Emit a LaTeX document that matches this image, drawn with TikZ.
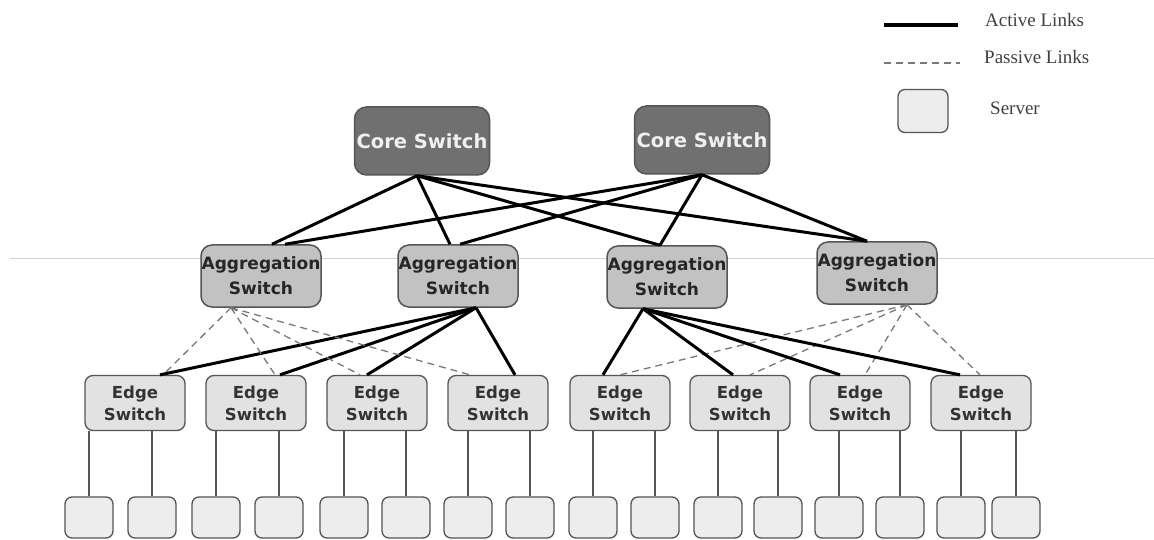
\documentclass[tikz,border=0pt]{standalone}
\usepackage{fontspec}
\usepackage{tikz}
\setmainfont{Liberation Serif}
\newfontfamily\boxfont{DejaVu Sans}
\definecolor{coreGray}{RGB}{112,112,112}
\definecolor{aggGray}{RGB}{194,194,194}
\definecolor{edgeGray}{RGB}{226,226,226}
\definecolor{srvGray}{RGB}{237,237,237}
\definecolor{borderGray}{RGB}{85,85,85}
\definecolor{passiveGray}{RGB}{120,120,120}
\definecolor{ruleGray}{RGB}{208,208,208}
\usetikzlibrary{positioning}

\begin{document}
\begin{tikzpicture}[x=1pt, y=-1pt,
    core/.style={rectangle, rounded corners=12pt, draw=borderGray, line width=1.5pt,
        fill=coreGray, minimum width=135pt, minimum height=68pt, inner sep=0pt,
        text=gray!12, font=\boxfont\bfseries\fontsize{19.5}{22}\selectfont},
    agg/.style={rectangle, rounded corners=11pt, draw=borderGray, line width=1.5pt,
        fill=aggGray, minimum width=120pt, minimum height=62pt, inner sep=0pt,
        align=center, text=black!85, font=\boxfont\bfseries\fontsize{17}{25}\selectfont},
    edgesw/.style={rectangle, rounded corners=8pt, draw=borderGray, line width=1.3pt,
        fill=edgeGray, minimum width=100pt, minimum height=55pt, inner sep=0pt,
        align=center, text=black!80, font=\boxfont\bfseries\fontsize{16.5}{22}\selectfont},
    srv/.style={rectangle, rounded corners=7pt, draw=borderGray, line width=1.3pt,
        fill=srvGray, minimum width=48pt, minimum height=41pt, inner sep=0pt},
    active/.style={line width=3pt, black},
    passive/.style={line width=1.3pt, passiveGray, dash pattern=on 7pt off 5pt},
    srvlink/.style={line width=1.5pt, borderGray},
    legtext/.style={anchor=west, inner sep=0pt, text=black!75, font=\fontsize{19}{22}\selectfont}
]
\useasboundingbox (0,0) rectangle (1154,540);

% thin rule across the picture
\draw[ruleGray, line width=1pt] (10,258) -- (1154,258);

% switches
\node[core] (core1) at (422,141) {Core Switch};
\node[core] (core2) at (702,140) {Core Switch};

\node[agg] (agg1) at (261,276) {Aggregation\\Switch};
\node[agg] (agg2) at (458,276) {Aggregation\\Switch};
\node[agg] (agg3) at (667,277) {Aggregation\\Switch};
\node[agg] (agg4) at (877,273) {Aggregation\\Switch};

\foreach \x [count=\i] in {135,256,377,498,620,740,860,981}
    \node[edgesw] (edge\i) at (\x,403) {Edge\\Switch};

% servers
\foreach \x [count=\i] in {89,152,216,279,344,406,468,530,593,655,718,778,839,900,961,1016}
    \node[srv] (srv\i) at (\x,517.5) {};

% core to aggregation
\foreach \a/\s/\t in {agg1/11/24, agg2/-8/2, agg3/-7/-7, agg4/-10/-10} {
    \draw[active] ([xshift=-5pt]core1.south) -- ([xshift=\s pt]\a.north);
    \draw[active] (core2.south) -- ([xshift=\t pt]\a.north);
}

% aggregation to edge
\foreach \e/\s/\p in {1/25/28, 2/24/19, 3/-10/-17, 4/17/-28} {
    \draw[passive] ([xshift=-30pt]agg1.south) -- ([xshift=\p pt]edge\e.north);
    \draw[active] ([xshift=18pt]agg2.south) -- ([xshift=\s pt]edge\e.north);
}
\foreach \e/\s/\p in {5/-17/0, 6/-7/10, 7/-20/5, 8/-21/-1} {
    \draw[active] ([xshift=-24pt]agg3.south) -- ([xshift=\s pt]edge\e.north);
    \draw[passive] ([xshift=30pt]agg4.south) -- ([xshift=\p pt]edge\e.north);
}

% edge to servers
\foreach \i in {1,...,16} {
    \pgfmathtruncatemacro\e{(\i+1)/2}
    \draw[srvlink] (srv\i.north) -- (srv\i.north |- edge\e.south);
}

% legend
\node[legtext] (actlbl) at (985,20) {Active Links};
\node[legtext] (paslbl) at (984,57) {Passive Links};
\node[srv, minimum width=50pt, minimum height=43pt] (legsrv) at (923,111) {};
\node[legtext] (srvlbl) at (990,108) {Server};
\coordinate (actA) at (884,25);
\coordinate (actB) at (958,25);
\coordinate (pasA) at (884,63);
\coordinate (pasB) at (960,63);
\draw[active, line width=4pt] (actA) -- (actB);
\draw[passive, line width=1.2pt] (pasA) -- (pasB);
\end{tikzpicture}
\end{document}
